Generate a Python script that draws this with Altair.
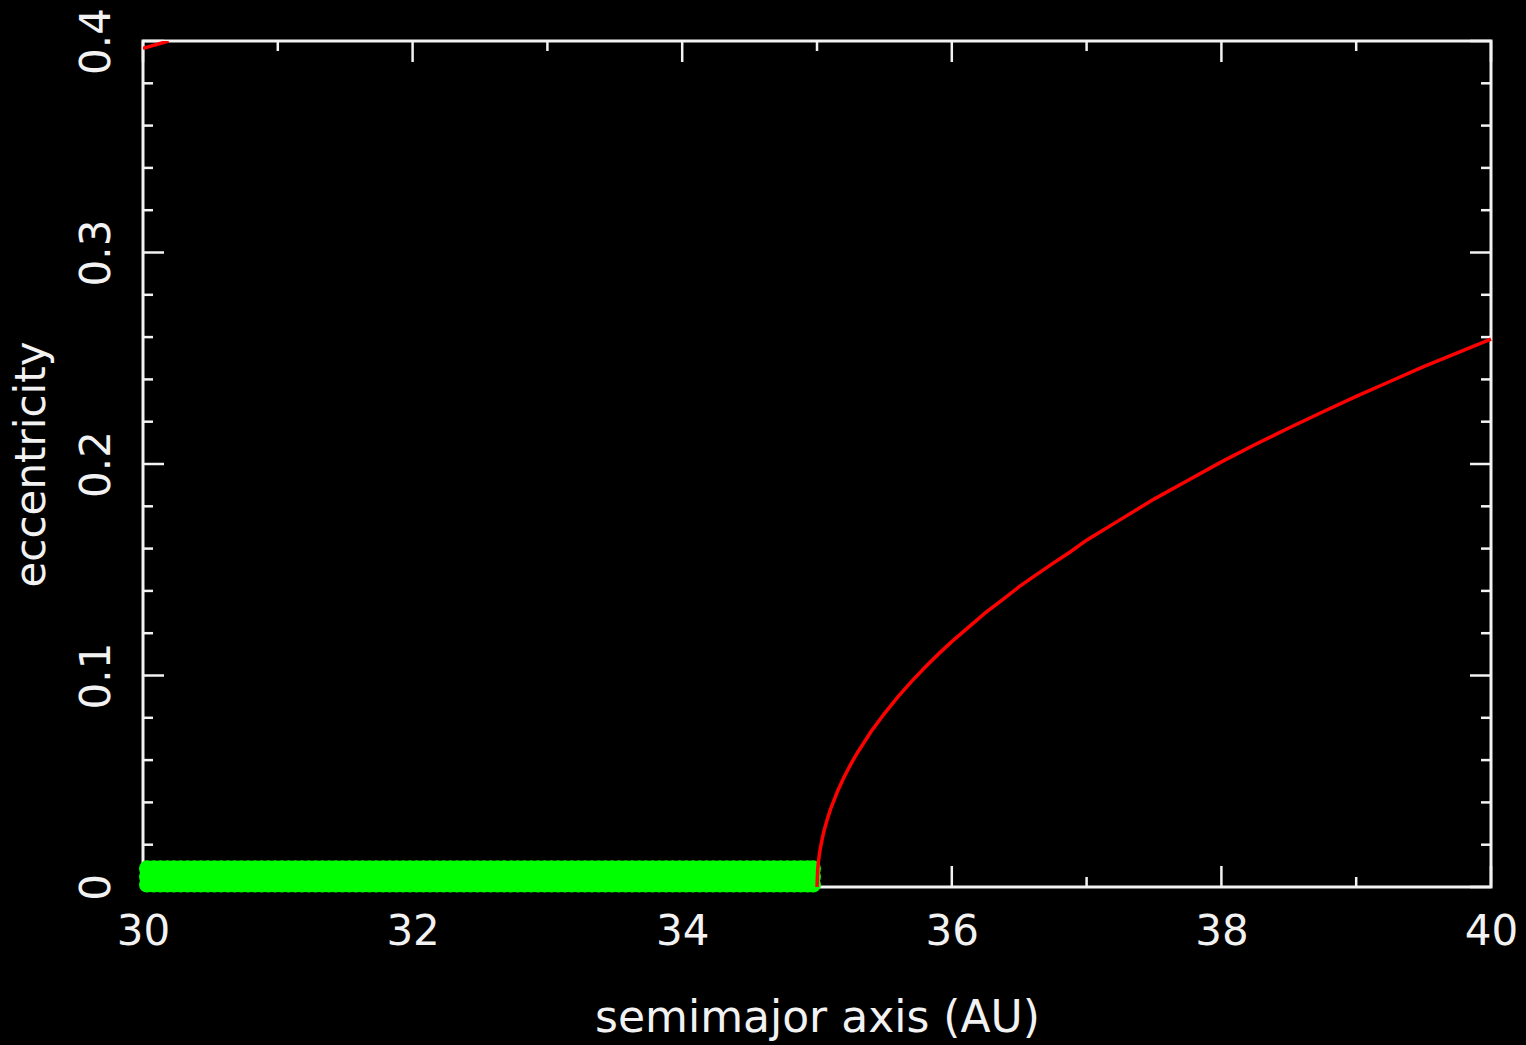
import altair as alt
import pandas as pd

# red boundary curve
curve_a = [35.0, 35.005, 35.01, 35.02, 35.03, 35.045, 35.06, 35.08, 35.1, 35.15, 35.2,
           35.25, 35.3, 35.4, 35.5, 35.6, 35.7, 35.8, 35.9, 36.0, 36.125, 36.25, 36.375,
           36.5, 36.625, 36.75, 36.875, 37.0, 37.25, 37.5, 37.75, 38.0, 38.25, 38.5,
           38.75, 39.0, 39.25, 39.5, 39.75, 40.0]
curve_e = [0.0, 0.008, 0.0116, 0.0164, 0.020, 0.0246, 0.0284, 0.0328, 0.0367, 0.0449, 0.0519,
           0.058, 0.0635, 0.0734, 0.082, 0.0899, 0.0971, 0.1038, 0.1101, 0.116, 0.1229, 0.1297,
           0.1358, 0.142, 0.1476, 0.153, 0.1583, 0.164, 0.1737, 0.1834, 0.1922, 0.2010,
           0.2092, 0.2170, 0.2246, 0.2320, 0.2390, 0.2460, 0.2525, 0.2590]
# red branch at top left corner
upper_a = [30.0, 30.19]
upper_e = [0.3965, 0.4]
# green particle band
green_a = [30.03, 30.08, 30.13, 30.18, 30.23, 30.28, 30.33, 30.38, 30.43, 30.48,
           30.53, 30.58, 30.63, 30.68, 30.73, 30.78, 30.83, 30.88, 30.93, 30.98,
           31.03, 31.08, 31.13, 31.18, 31.23, 31.28, 31.33, 31.38, 31.43, 31.48,
           31.53, 31.58, 31.63, 31.68, 31.73, 31.78, 31.83, 31.88, 31.93, 31.98,
           32.03, 32.08, 32.13, 32.18, 32.23, 32.28, 32.33, 32.38, 32.43, 32.48,
           32.53, 32.58, 32.63, 32.68, 32.73, 32.78, 32.83, 32.88, 32.93, 32.98,
           33.03, 33.08, 33.13, 33.18, 33.23, 33.28, 33.33, 33.38, 33.43, 33.48,
           33.53, 33.58, 33.63, 33.68, 33.73, 33.78, 33.83, 33.88, 33.93, 33.98,
           34.03, 34.08, 34.13, 34.18, 34.23, 34.28, 34.33, 34.38, 34.43, 34.48,
           34.53, 34.58, 34.63, 34.68, 34.73, 34.78, 34.83, 34.88, 34.93, 34.97]
green_e = [0.0012, 0.005, 0.0088]

x_major = [30, 32, 34, 36, 38, 40]
x_minor = [31, 33, 35, 37, 39]
y_major = [0.0, 0.1, 0.2, 0.3, 0.4]
y_minor = [0.02, 0.04, 0.06, 0.08, 0.12, 0.14, 0.16, 0.18, 0.22, 0.24, 0.26, 0.28,
           0.32, 0.34, 0.36, 0.38]

W, H = 1348, 846
FONT = "DejaVu Sans"
WHITE = "#f2f2f2"
MAJ, MIN = 21, 10

curve_df = pd.DataFrame({"a": curve_a, "e": curve_e})
upper_df = pd.DataFrame({"a": upper_a, "e": upper_e})
green_df = pd.DataFrame([{"a": a, "e": e} for e in green_e for a in green_a])

xs = alt.Scale(domain=[30, 40], nice=False, zero=False)
ys = alt.Scale(domain=[0, 0.4], nice=False, zero=False)

xaxis = alt.Axis(values=x_major, format="d", title="semimajor axis (AU)",
                 ticks=False, domain=False, grid=False, labelFontSize=42,
                 labelFont=FONT, labelColor=WHITE, labelPadding=24, labelFlush=False,
                 titleFont=FONT, titleFontSize=44, titleFontWeight="normal",
                 titleColor=WHITE, titlePadding=44)
yaxis = alt.Axis(values=y_major, format="~g", title="eccentricity",
                 ticks=False, domain=False, grid=False, labelFontSize=42,
                 labelFont=FONT, labelColor=WHITE, labelAngle=270, labelFlush=False,
                 labelPadding=25, titleFont=FONT, titleFontSize=42,
                 titleFontWeight="normal", titleColor=WHITE, titlePadding=22)

green = alt.Chart(green_df).mark_circle(color="#00ff00", opacity=1, size=260).encode(
    x=alt.X("a:Q", scale=xs, axis=xaxis),
    y=alt.Y("e:Q", scale=ys, axis=yaxis),
)
red = alt.Chart(curve_df).mark_line(color="#ff0000", strokeWidth=3.5).encode(
    x=alt.X("a:Q", scale=xs), y=alt.Y("e:Q", scale=ys))
red_top = alt.Chart(upper_df).mark_line(color="#ff0000", strokeWidth=3.5, clip=True).encode(
    x=alt.X("a:Q", scale=xs), y=alt.Y("e:Q", scale=ys))

def xticks(vals, length):
    df = pd.DataFrame({"t": vals})
    b = alt.Chart(df).mark_rule(color=WHITE, strokeWidth=2.5).encode(
        x=alt.X("t:Q", scale=xs), y=alt.value(H), y2=alt.value(H - length))
    t = alt.Chart(df).mark_rule(color=WHITE, strokeWidth=2.5).encode(
        x=alt.X("t:Q", scale=xs), y=alt.value(0), y2=alt.value(length))
    return [b, t]

def yticks(vals, length):
    df = pd.DataFrame({"t": vals})
    l = alt.Chart(df).mark_rule(color=WHITE, strokeWidth=2.5).encode(
        y=alt.Y("t:Q", scale=ys), x=alt.value(0), x2=alt.value(length))
    r = alt.Chart(df).mark_rule(color=WHITE, strokeWidth=2.5).encode(
        y=alt.Y("t:Q", scale=ys), x=alt.value(W), x2=alt.value(W - length))
    return [l, r]

layers = [green] + xticks(x_major, MAJ) + xticks(x_minor, MIN) + \
    yticks(y_major, MAJ) + yticks(y_minor, MIN)
# draw ticks first, then the particles and the curve on top
layers = layers[1:] + [layers[0], red, red_top]

chart = alt.layer(*layers).properties(
    width=W, height=H,
    background="black",
    autosize=alt.AutoSizeParams(type="none"),
    padding={"left": 143, "top": 41, "right": 35, "bottom": 158},
).configure_view(stroke=WHITE, strokeWidth=3)

chart.save("out.html", embed_options={"renderer": "svg", "actions": False})
